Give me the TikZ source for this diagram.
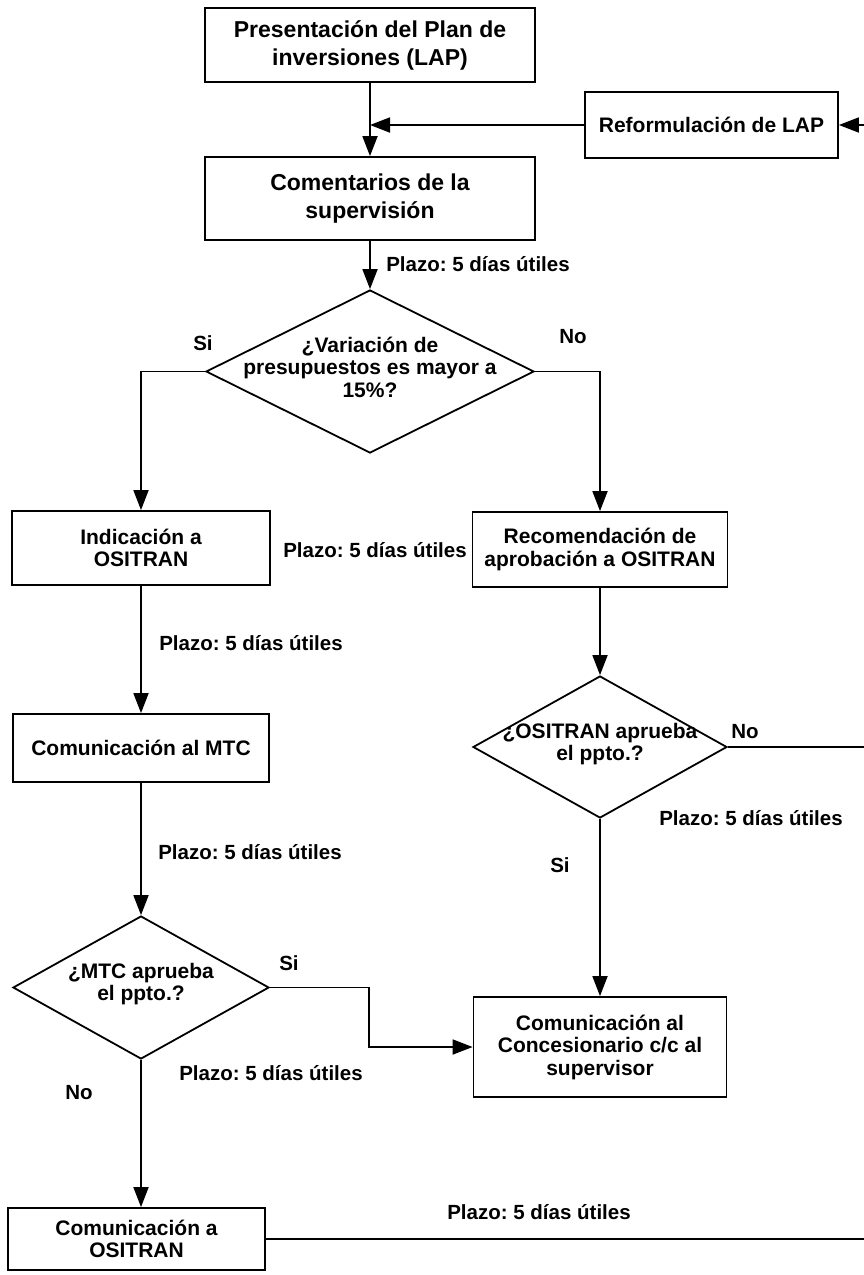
\documentclass[tikz,border=0pt]{standalone}
\usepackage{fontspec}
\setmainfont{Liberation Sans}
\usetikzlibrary{arrows.meta,shapes.geometric}
\frenchspacing
\begin{document}
\begin{tikzpicture}[x=1pt,y=-1pt,
  box/.style={draw,line width=1.8pt,rectangle,inner sep=0pt,align=center,font=\bfseries\fontsize{21}{22.5}\selectfont},
  bigbox/.style={box,font=\bfseries\fontsize{23}{28}\selectfont},
  dia/.style={draw,line width=1.8pt,diamond,inner sep=0pt},
  txt/.style={inner sep=0pt,align=center,font=\bfseries\fontsize{21}{22.5}\selectfont},
  lbl/.style={inner sep=0pt,font=\bfseries\fontsize{20.5}{24}\selectfont},
  conn/.style={line width=1.8pt},
  arr/.style={conn,-{Triangle[length=20pt,width=15pt]}}
]
\useasboundingbox (0,0) rectangle (864,1275);
% boxes
\node[bigbox,minimum width=330pt,minimum height=74pt] (pres) at (370,45) {Presentación del Plan de\\inversiones (LAP)};
\node[box,minimum width=253pt,minimum height=66pt] (ref) at (711.5,125) {Reformulación de LAP};
\node[bigbox,minimum width=330pt,minimum height=83pt] (com) at (370,198.5) {Comentarios de la\\supervisión};
\node[dia,minimum width=328pt,minimum height=163pt] (d1) at (370,371.5) {};
\node[txt] (d1t) at (370,367) {¿Variación de\\presupuestos es mayor a\\15\%?};
\node[box,minimum width=258pt,minimum height=74pt] (ind) at (141,548) {Indicación a\\OSITRAN};
\node[box,minimum width=255pt,minimum height=75pt] (rec) at (600,549.5) {Recomendación de\\aprobación a OSITRAN};
\node[box,minimum width=256pt,minimum height=68pt] (mtc) at (141,748) {Comunicación al MTC};
\node[dia,minimum width=254pt,minimum height=142pt] (d2) at (600,747) {};
\node[txt] (d2t) at (600,744) {¿OSITRAN aprueba\\el ppto.?};
\node[dia,minimum width=256pt,minimum height=143pt] (d3) at (141,987.5) {};
\node[txt] (d3t) at (141,984) {¿MTC aprueba\\el ppto.?};
\node[box,minimum width=253pt,minimum height=100pt] (con) at (600,1047) {Comunicación al\\Concesionario c/c al\\supervisor};
\node[box,minimum width=257pt,minimum height=62pt] (cos) at (136.5,1239) {Comunicación a\\OSITRAN};
% coordinates
\coordinate (j1) at (370,125);
\coordinate (rin) at (864,125);
\coordinate (d2out) at (864,747);
\coordinate (elb) at (369,987.5);
\coordinate (cosout) at (864,1239);
% connectors
\draw[arr] (pres.south) -- (com.north);
\draw[arr] (ref.west) -- (j1);
\draw[arr] (rin) -- (ref.east);
\draw[arr] (com.south) -- (d1.north);
\draw[arr] (d1.west) -| (ind.north);
\draw[arr] (d1.east) -| (rec.north);
\draw[arr] (ind.south) -- (mtc.north);
\draw[arr] (rec.south) -- (d2.north);
\draw[conn] (d2.east) -- (d2out);
\draw[arr] (d2.south) -- (con.north);
\draw[arr] (mtc.south) -- (d3.north);
\draw[arr] (d3.east) -- (elb) |- (con.west);
\draw[arr] (d3.south) -- (d3.south |- cos.north);
\draw[conn] (cos.east) -- (cosout);
% labels
\node[lbl] (l1) at (478,264) {Plazo: 5 días útiles};
\node[lbl] (si1) at (203,343) {Si};
\node[lbl] (no1) at (573,337) {No};
\node[lbl] (l2) at (375,550) {Plazo: 5 días útiles};
\node[lbl] (l3) at (251,643) {Plazo: 5 días útiles};
\node[lbl] (l4) at (250,852) {Plazo: 5 días útiles};
\node[lbl] (si3) at (289,963) {Si};
\node[lbl] (no2) at (745,732) {No};
\node[lbl] (l5) at (751,818) {Plazo: 5 días útiles};
\node[lbl] (si2) at (560,865) {Si};
\node[lbl] (l6) at (271,1073) {Plazo: 5 días útiles};
\node[lbl] (no3) at (79,1093) {No};
\node[lbl] (l7) at (539,1212) {Plazo: 5 días útiles};
\end{tikzpicture}
\end{document}
